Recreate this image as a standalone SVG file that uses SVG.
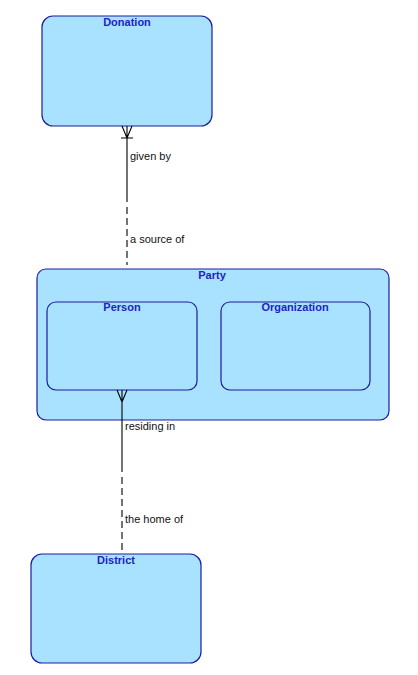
<svg xmlns="http://www.w3.org/2000/svg" width="418" height="675" viewBox="0 0 418 675">
<style>
.box{fill:#a8e2fe;stroke:#1c1ca0;stroke-width:1.2}
.title{font-family:"Liberation Sans",Arial,sans-serif;font-weight:bold;font-size:11px;fill:#2222c4;text-anchor:middle}
.lbl{font-family:"Liberation Sans",Arial,sans-serif;font-size:11px;fill:#111}
.ln{stroke:#000;stroke-width:1.1;fill:none}
.dash{stroke:#000;stroke-width:1.1;fill:none;stroke-dasharray:7,4}
</style>
<rect width="418" height="675" fill="#fff"/>
<g id="Donation">
<rect class="box" x="42" y="16" width="170" height="110" rx="11"/>
<text class="title" x="127" y="26">Donation</text>
</g>
<g id="Party">
<rect class="box" x="37" y="269" width="352" height="151" rx="9"/>
<text class="title" x="212" y="279">Party</text>
</g>
<g id="Person">
<rect class="box" x="47" y="302" width="150" height="88" rx="9"/>
<text class="title" x="122" y="311">Person</text>
</g>
<g id="Organization">
<rect class="box" x="221" y="302" width="149" height="88" rx="9"/>
<text class="title" x="295" y="311">Organization</text>
</g>
<g id="District">
<rect class="box" x="31" y="554" width="170" height="109" rx="11"/>
<text class="title" x="116" y="564">District</text>
</g>
<g id="connectors">
<path class="ln" d="M127 126 V202 M122 126 L127 138 L132 126 M121 138 H133"/>
<path class="dash" d="M127 207 V265"/>
<text class="lbl" x="130" y="160">given by</text>
<text class="lbl" x="130" y="243">a source of</text>
<path class="ln" d="M122 390 V472 M117 390 L122 402 L127 390"/>
<path class="dash" d="M122 477 V553"/>
<text class="lbl" x="125" y="430">residing in</text>
<text class="lbl" x="125" y="523">the home of</text>
</g>
</svg>
